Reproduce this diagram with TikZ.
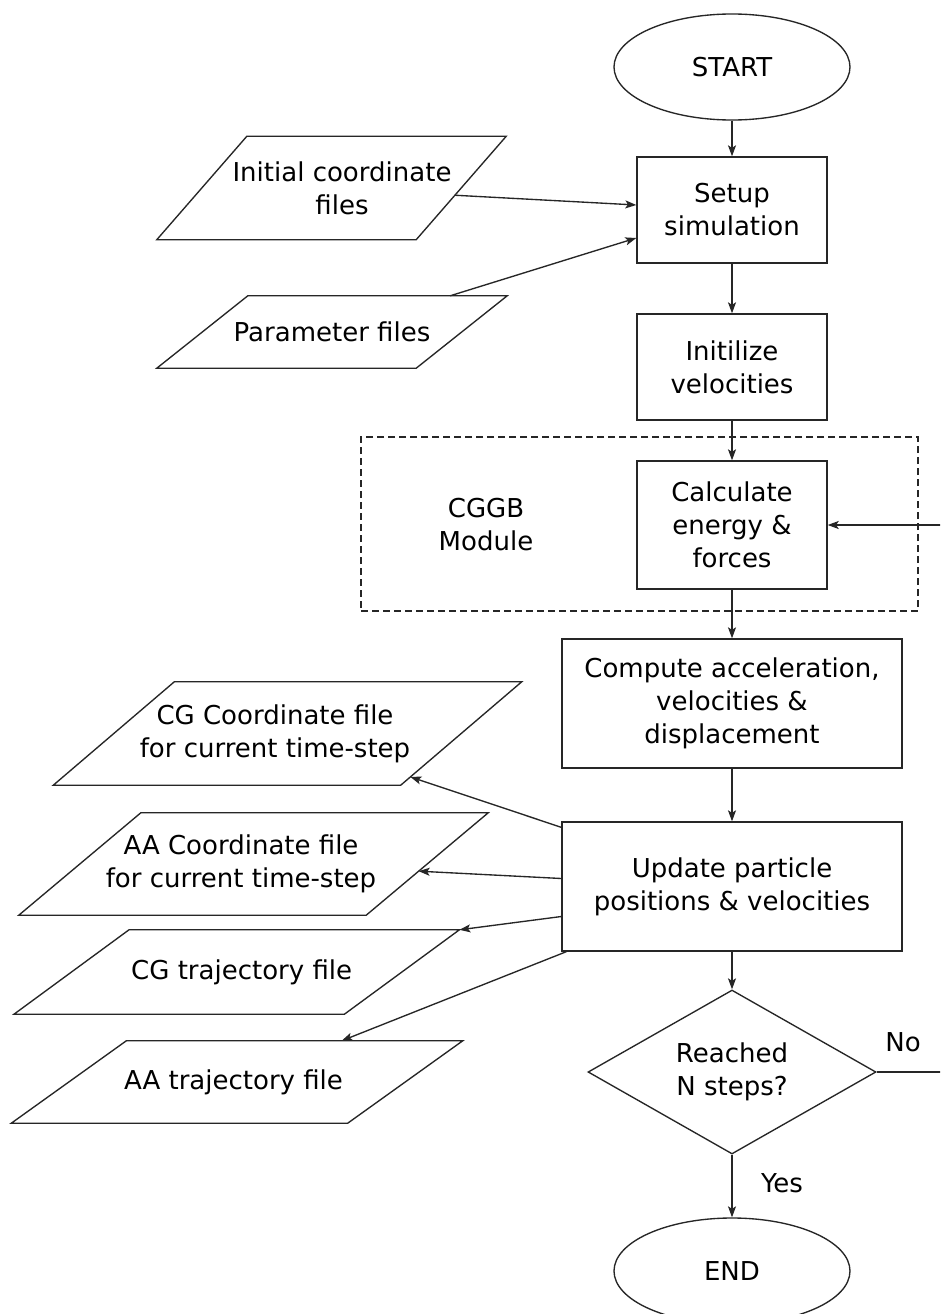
\documentclass[tikz,border=0pt]{standalone}
\usepackage{fontspec}
\setmainfont{DejaVu Sans}
\usetikzlibrary{shapes.geometric,arrows.meta,calc}

% Outline of an input/output parallelogram around the text node #1.
% #2: how far the top edge leans to the right, #3: sideways offset of the outline.
\newcommand\slantframe[3]{%
  \coordinate (#1-bl) at ($(#1.south west)+(#3-0.5*#2,0)$);
  \coordinate (#1-br) at ($(#1.south east)+(#3-0.5*#2,0)$);
  \coordinate (#1-tr) at ($(#1.north east)+(#3+0.5*#2,0)$);
  \coordinate (#1-tl) at ($(#1.north west)+(#3+0.5*#2,0)$);
  \draw[stroke] (#1-bl) -- (#1-br) -- (#1-tr) -- (#1-tl) -- cycle;}

\begin{document}
\begin{tikzpicture}[x=1pt,y=-1pt,
  font=\fontsize{26}{33}\selectfont,
  stroke/.style={draw=black!85, line width=1.35pt},
  flow/.style={stroke, -{Stealth[length=11pt,width=8pt,inset=2.5pt]}},
  procbox/.style={rectangle, stroke, align=center, inner sep=0pt},
  termbox/.style={ellipse, stroke, inner sep=0pt, minimum width=236pt, minimum height=106pt},
  iotext/.style={rectangle, inner sep=0pt, align=center},
  decision/.style={diamond, stroke, inner sep=0pt, aspect=1.75, align=center},
  tag/.style={inner sep=0pt, align=center}
]
\fill[white] (0,0) rectangle (940,1314);
\useasboundingbox (0,0) rectangle (940,1314);
\clip (0,0) rectangle (940,1314);

% main flow
\node[termbox] (start) at (732,67) {START};
\node[procbox, minimum width=190pt, minimum height=106pt] (setup) at (732,210) {Setup\\simulation};
\node[procbox, minimum width=190pt, minimum height=106pt] (init) at (732,367) {Initilize\\velocities};
\node[draw=black!85, line width=1.35pt, dash pattern=on 7pt off 4pt, inner sep=0pt,
      minimum width=557pt, minimum height=174pt] (module) at (639.5,524) {};
\node[tag] (modname) at (486,525) {CGGB\\Module};
\node[procbox, minimum width=190pt, minimum height=128pt] (calc) at (732,525) {Calculate\\energy \&\\forces};
\node[procbox, minimum width=340pt, minimum height=129pt] (compute) at (732,703.5) {Compute acceleration,\\velocities \&\\displacement};
\node[procbox, minimum width=340pt, minimum height=129pt] (update) at (732,886.5) {Update particle\\positions \& velocities};
\node[decision, minimum width=288pt, minimum height=164pt] (check) at (732,1072) {Reached\\N steps?};
\node[termbox] (end) at (732,1271) {END};
\node[tag] (no) at (903,1042) {No};
\node[tag] (yes) at (782,1183) {Yes};

% input and output files
\node[iotext, minimum width=259pt, minimum height=103pt] (ic) at (342,188) {Initial coordinate\\files};
\slantframe{ic}{90}{-10.5}
\node[iotext, minimum width=259pt, minimum height=72pt] (pf) at (332,332) {Parameter files};
\slantframe{pf}{91}{0}
\node[iotext, minimum width=347pt, minimum height=103pt] (cgc) at (275,733.5) {CG Coordinate file\\for current time-step};
\slantframe{cgc}{121}{12.5}
\node[iotext, minimum width=347pt, minimum height=102pt] (aac) at (241,864) {AA Coordinate file\\for current time-step};
\slantframe{aac}{122}{12.5}
\node[iotext, minimum width=330pt, minimum height=84pt] (cgt) at (241.7,972) {CG trajectory file};
\slantframe{cgt}{115}{-5}
\node[iotext, minimum width=336pt, minimum height=82pt] (aat) at (233.5,1082) {AA trajectory file};
\slantframe{aat}{115}{3.5}

% connectors
\draw[flow] (start) -- (setup);
\draw[flow] (setup) -- (init);
\draw[flow] (init) -- (calc);
\draw[flow] (calc) -- (compute);
\draw[flow] (compute) -- (update);
\draw[flow] (update) -- (check);
\draw[flow] (check) -- (end);
\draw[flow] (check.east) -- (975,1072) |- (calc.east);

\draw[flow] ($(ic-br)!0.43!(ic-tr)$) -- ($(setup.west)+(0,-5)$);
\draw[flow] ($(pf-tl)!0.78!(pf-tr)$) -- ($(setup.west)+(0,28)$);
\draw[flow] ($(update.north west)+(0,6)$) -- ($(cgc-br)!0.08!(cgc-tr)$);
\draw[flow] ($(update.west)+(0,-8)$) -- ($(aac-br)!0.43!(aac-tr)$);
\draw[flow] ($(update.west)+(0,30)$) -- (cgt-tr);
\draw[flow] ($(update.south west)+(5,0)$) -- ($(aat-tl)!0.64!(aat-tr)$);
\end{tikzpicture}
\end{document}
